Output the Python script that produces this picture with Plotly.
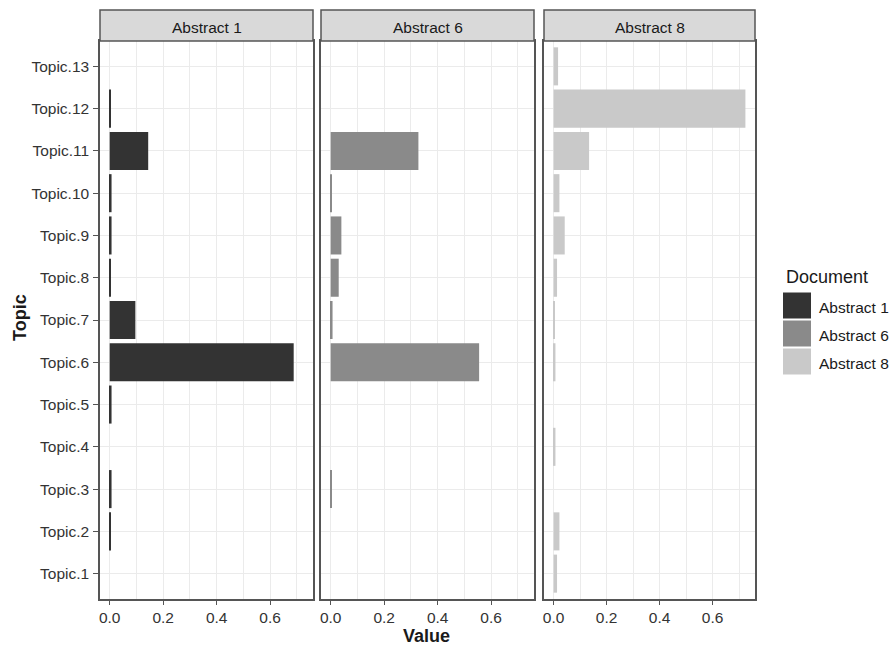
import plotly.graph_objects as go

# ---------------- data ----------------
topics = ["Topic.1", "Topic.2", "Topic.3", "Topic.4", "Topic.5", "Topic.6", "Topic.7",
          "Topic.8", "Topic.9", "Topic.10", "Topic.11", "Topic.12", "Topic.13"]
documents = ["Abstract 1", "Abstract 6", "Abstract 8"]
abstract_1 = [0.0, 0.003, 0.007, 0.0, 0.007, 0.688, 0.096, 0.002, 0.007, 0.007, 0.144, 0.002, 0.0]
abstract_6 = [0.0, 0.0, 0.002, 0.0, 0.0, 0.555, 0.007, 0.030, 0.040, 0.003, 0.328, 0.0, 0.0]
abstract_8 = [0.013, 0.022, 0.0, 0.007, 0.0, 0.007, 0.003, 0.013, 0.042, 0.022, 0.134, 0.724, 0.017]
values = [abstract_1, abstract_6, abstract_8]
x_ticks = [0.0, 0.2, 0.4, 0.6]

# ---------------- style ----------------
fills = ["#333333", "#8a8a8a", "#c9c9c9"]
FONT = "Liberation Sans, Arial, sans-serif"
BORDER = "#555555"
GRID = "#ebebeb"
TXT = "#333333"

W, H = 891, 647
# plot area in window pixels: x 100..755, y 10..599
L_PX, R_PX, T_PX, B_PX = 100, 755, 10, 599
ML, MR, MT, MB = L_PX, W - R_PX, T_PX, H - B_PX
PW, PH = R_PX - L_PX, B_PX - T_PX


def px(x):
    return (x - L_PX) / PW


def py(y):
    return (B_PX - y) / PH


ytop = py(41)
doms = [(px(100), px(313)), (px(321), px(534)), (px(544), px(755))]

vmax = max(max(v) for v in values)
xr = [-0.05 * vmax, 1.05 * vmax]

fig = go.Figure()
for i, (doc, vals) in enumerate(zip(documents, values)):
    sfx = "" if i == 0 else str(i + 1)
    fig.add_trace(go.Bar(
        x=vals, y=topics, orientation="h", width=0.9,
        marker=dict(color=fills[i], line=dict(width=0)),
        name=doc, showlegend=False,
        xaxis="x" + sfx, yaxis="y" + sfx,
    ))

layout = dict(
    width=W, height=H,
    margin=dict(l=ML, r=MR, t=MT, b=MB, autoexpand=False),
    paper_bgcolor="white", plot_bgcolor="white",
    font=dict(family=FONT, size=15.5, color=TXT),
    bargap=0.1,
    showlegend=False,
)
for i, (a, b) in enumerate(doms):
    sfx = "" if i == 0 else str(i + 1)
    layout["xaxis" + sfx] = dict(
        domain=[a, b], anchor="y" + sfx, range=xr,
        tickvals=x_ticks, ticktext=[f"{t:.1f}" for t in x_ticks],
        ticks="outside", ticklen=4, tickwidth=1.2, tickcolor=BORDER,
        tickfont=dict(size=15.5, color=TXT),
        showgrid=True, gridcolor=GRID, gridwidth=1.3,
        minor=dict(dtick=0.1, tick0=0, showgrid=True, gridcolor=GRID, gridwidth=0.8, ticks=""),
        showline=True, linecolor=BORDER, linewidth=1.5, mirror=True,
        zeroline=False, fixedrange=True,
    )
    layout["yaxis" + sfx] = dict(
        domain=[0, ytop], anchor="x" + sfx,
        type="category", categoryorder="array", categoryarray=topics,
        range=[-0.6, len(topics) - 0.4],
        showticklabels=(i == 0),
        ticks="outside" if i == 0 else "", ticklen=5, tickwidth=1.2, tickcolor=BORDER,
        ticklabelstandoff=1,
        tickfont=dict(size=15.5, color=TXT),
        showgrid=True, gridcolor=GRID, gridwidth=1.3,
        showline=True, linecolor=BORDER, linewidth=1.5, mirror=True,
        zeroline=False, fixedrange=True,
    )
    if i > 0:
        layout["yaxis" + sfx]["matches"] = "y"

shapes = []
annotations = []
# facet strips
for (a, b), doc in zip(doms, documents):
    shapes.append(dict(type="rect", xref="paper", yref="paper", x0=a, x1=b, y0=ytop, y1=1,
                       fillcolor="#d9d9d9", line=dict(color=BORDER, width=1.5)))
    annotations.append(dict(text=doc, xref="paper", yref="paper", x=(a + b) / 2, y=(ytop + 1) / 2,
                            xanchor="center", yanchor="middle", showarrow=False, yshift=-2,
                            font=dict(size=15.5, color="#1a1a1a")))
# axis titles
annotations.append(dict(text="<b>Value</b>", xref="paper", yref="paper", x=px(426), y=py(636),
                        xanchor="center", yanchor="middle", showarrow=False,
                        font=dict(size=18, color="#1a1a1a")))
annotations.append(dict(text="<b>Topic</b>", xref="paper", yref="paper", x=px(20), y=py(318),
                        xanchor="center", yanchor="middle", showarrow=False, textangle=-90,
                        font=dict(size=18, color="#1a1a1a")))
# legend
annotations.append(dict(text="Document", xref="paper", yref="paper", x=px(784), y=py(277),
                        xanchor="left", yanchor="middle", showarrow=False,
                        font=dict(size=18, color="#1a1a1a")))
centers = [305.5, 333.5, 361.5]
for doc, col, c in zip(documents, fills, centers):
    shapes.append(dict(type="rect", xref="paper", yref="paper", x0=px(783), x1=px(811),
                       y0=py(c + 13), y1=py(c - 13), fillcolor=col, line=dict(width=0)))
    annotations.append(dict(text=doc, xref="paper", yref="paper", x=px(817), y=py(c),
                            xanchor="left", yanchor="middle", showarrow=False, yshift=-1.5,
                            font=dict(size=15.5, color="#1a1a1a")))

layout["shapes"] = shapes
layout["annotations"] = annotations
fig.update_layout(**layout)
# remove the browser's default 8px body margin so the figure fills the window exactly
fig.write_html("out.html", config={"displayModeBar": False},
               post_script="document.body.style.margin='0';")
